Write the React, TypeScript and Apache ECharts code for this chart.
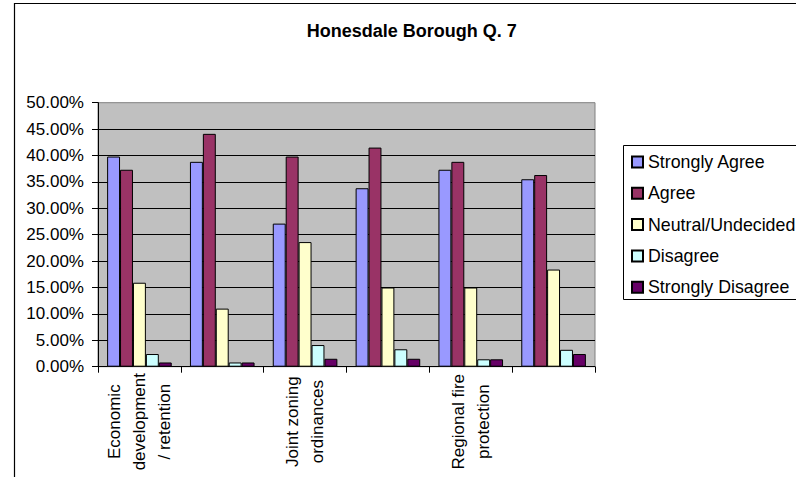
import React, { useEffect, useRef } from "react";
import * as echarts from "echarts";

const categories = [
  "Economic\ndevelopment\n/ retention",
  "Category 2",
  "Joint zoning\nordinances",
  "Category 4",
  "Regional fire\nprotection",
  "Category 6",
];
const seriesNames = ["Strongly Agree", "Agree", "Neutral/Undecided", "Disagree", "Strongly Disagree"];
const stronglyAgree = [39.8, 38.8, 27.1, 33.8, 37.3, 35.5];
const agree = [37.3, 44.1, 39.8, 41.5, 38.8, 36.3];
const neutral = [15.9, 11.0, 23.6, 15.0, 15.0, 18.4];
const disagree = [2.4, 0.8, 4.1, 3.3, 1.4, 3.2];
const stronglyDisagree = [0.8, 0.8, 1.5, 1.5, 1.4, 2.4];
const colors = ["#9999FF", "#993366", "#FFFFCC", "#CCFFFF", "#660066"];
const titleText = "Honesdale Borough Q. 7";

const FONT = '"Liberation Sans", Arial, sans-serif';

export default function App() {
  const ref = useRef<HTMLDivElement>(null);
  useEffect(() => {
    if (!ref.current) return;
    const chart = echarts.init(ref.current, undefined, { renderer: "svg" });
    const values = [stronglyAgree, agree, neutral, disagree, stronglyDisagree];
    chart.setOption({
      animation: false,
      backgroundColor: "#FFFFFF",
      textStyle: { fontFamily: FONT, color: "#000" },
      graphic: [
        {
          type: "rect",
          z: 0,
          silent: true,
          shape: { x: 14.5, y: 3.5, width: 900, height: 600 },
          style: { fill: "none", stroke: "#000", lineWidth: 1.2 },
        },
        {
          type: "rect",
          z: 0,
          silent: true,
          shape: { x: 623.5, y: 145.5, width: 300, height: 154 },
          style: { fill: "#FFFFFF", stroke: "#000", lineWidth: 1 },
        },
        {
          type: "text",
          z: 5,
          x: 411.7,
          y: 31,
          style: {
            text: titleText,
            fontFamily: FONT,
            fontWeight: "bold",
            fontSize: 18,
            fill: "#000",
            align: "center",
            verticalAlign: "middle",
          },
        },
      ],
      legend: {
        orient: "vertical",
        left: 631,
        top: 153,
        padding: 0,
        z: 10,
        itemWidth: 11,
        itemHeight: 11,
        itemGap: 13.3,
        icon: "rect",
        textStyle: { fontFamily: FONT, fontSize: 17.8, color: "#000", lineHeight: 17.5 },
        data: seriesNames,
      },
      grid: {
        left: 98,
        right: 201,
        top: 102.7,
        bottom: 110.3,
        show: true,
        backgroundColor: "#C0C0C0",
        borderColor: "#808080",
        borderWidth: 1,
      },
      xAxis: {
        type: "category",
        data: categories,
        boundaryGap: true,
        axisLine: { show: true, lineStyle: { color: "#000", width: 1 } },
        axisTick: { show: true, interval: 0, length: 6, alignWithLabel: false, lineStyle: { color: "#000" } },
        axisLabel: {
          interval: 1,
          rotate: 90,
          align: "center",
          verticalAlign: "middle",
          margin: 55,
          fontFamily: FONT,
          fontSize: 17,
          lineHeight: 25,
          color: "#000",
        },
        splitLine: { show: false },
      },
      yAxis: {
        type: "value",
        min: 0,
        max: 50,
        interval: 5,
        axisLine: { show: true, lineStyle: { color: "#000", width: 1 } },
        axisTick: { show: true, length: 6, lineStyle: { color: "#000" } },
        axisLabel: {
          margin: 14,
          fontFamily: FONT,
          fontSize: 17,
          color: "#000",
          formatter: (v: number) => v.toFixed(2) + "%",
        },
        splitLine: { show: true, showMaxLine: false, lineStyle: { color: "#000", width: 1 } },
      },
      series: seriesNames.map((name, i) => ({
        name,
        type: "bar",
        data: values[i],
        barGap: "0%",
        barCategoryGap: "22%",
        itemStyle: { color: colors[i], borderColor: "#000", borderWidth: 1 },
      })),
    });
    return () => chart.dispose();
  }, []);
  return (
    <div
      ref={ref}
      style={{ position: "fixed", left: 0, top: 0, width: 796, height: 477, background: "#fff" }}
    />
  );
}
